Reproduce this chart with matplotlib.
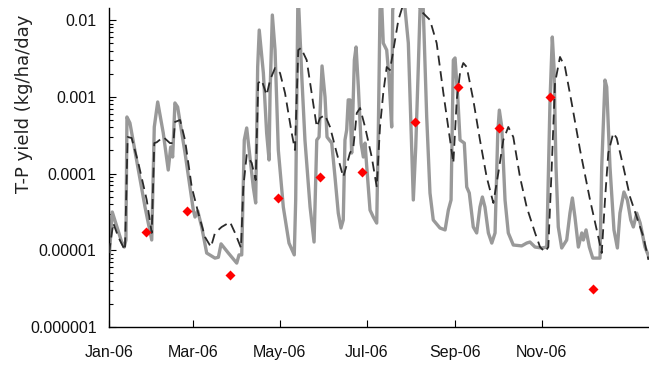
import numpy as np
import pandas as pd
import matplotlib
matplotlib.use("Agg")
import matplotlib.pyplot as plt
import matplotlib.ticker as mticker

start = pd.Timestamp("2006-01-01")

# simulated daily T-P yield (grey solid), day offset from 1 Jan 2006
sim_day = [0, 2.3, 8.9, 10.7, 11.9, 12.6, 14.7, 20.6, 25.3, 30.0, 31.8, 34.2, 38.1, 41.6, 43.3, 44.7,
           46.3, 48.2, 53.4, 59.2, 60.4, 62.3, 65.1, 68.6, 74.4, 76.8, 78.7, 83.8, 89.7, 91.3, 93.2,
           95.0, 96.7, 99.0, 101.3, 103.0, 104.4, 105.5, 108.4, 110.7, 112.4, 113.1, 114.7, 116.6,
           118.9, 122.4, 126.4, 130.1, 131.1, 132.7, 135.5, 137.6, 141.2, 144.0, 145.9, 147.5, 149.6,
           151.7, 153.1, 156.4, 158.7, 161.0, 162.9, 164.5, 165.7, 166.9, 168.0, 169.2, 170.4, 172.3,
           173.5, 175.1, 177.0, 178.6, 179.8, 181.0, 183.3, 185.6, 188.0, 189.1, 190.3, 191.3, 192.6,
           195.0, 196.6, 198.5, 199.2, 205.0, 210.2, 212.1, 213.7, 215.4, 217.2, 218.4, 220.0, 220.7,
           223.1, 225.4, 227.7, 232.4, 236.0, 238.3, 240.2, 241.8, 243.0, 244.9, 246.5, 249.5, 251.2,
           253.0, 255.8, 258.2, 260.5, 262.2, 264.0, 266.4, 268.8, 271.1, 273.0, 274.1, 275.8, 278.1,
           280.4, 283.9, 289.8, 293.3, 295.6, 299.2, 303.9, 307.4, 309.7, 311.3, 312.5, 313.9, 315.5,
           317.9, 321.4, 323.7, 325.4, 327.2, 329.6, 332.0, 333.1, 335.0, 337.3, 339.7, 344.8, 346.0,
           348.3, 349.5, 351.8, 354.6, 357.0, 358.8, 361.6, 364.0, 366.4, 368.2, 370.6, 373.0, 376.4,
           379.2]
sim_val = [7.5e-6, 3.15e-5, 1.28e-5, 1.10e-5, 1.36e-5, 5.45e-4, 4.55e-4, 1.11e-4, 3.66e-5, 1.36e-5,
           4.04e-4, 8.55e-4, 3.37e-4, 1.11e-4, 2.21e-4, 1.64e-4, 8.3e-4, 7.35e-4, 1.85e-4, 3.34e-5,
           2.71e-5, 3.25e-5, 2.01e-5, 9.2e-6, 7.9e-6, 8.1e-6, 1.21e-5, 9.2e-6, 6.8e-6, 8.7e-6, 8.7e-6,
           2.73e-4, 3.92e-4, 1.64e-4, 6.67e-5, 4.13e-5, 2.44e-3, 7.4e-3, 2.04e-3, 3.37e-4, 1.50e-4,
           1.12e-3, 1.16e-2, 4.06e-3, 2.02e-4, 3.66e-5, 1.24e-5, 8.7e-6, 4.52e-5, 2.5e-2, 1.65e-3,
           2.73e-4, 3.66e-5, 1.28e-5, 2.73e-4, 2.99e-4, 2.52e-3, 9.9e-4, 2.99e-4, 2.49e-4, 9.0e-5,
           3.05e-5, 1.95e-5, 2.48e-5, 2.73e-4, 3.69e-4, 9.1e-4, 9.1e-4, 1.85e-4, 3.01e-3, 4.45e-3,
           1.34e-3, 2.49e-4, 1.64e-4, 2.49e-4, 1.22e-4, 3.34e-5, 2.71e-5, 2.26e-5, 3.37e-4, 1.35e-2,
           2.0e-2, 5.0e-3, 4.06e-3, 1.81e-3, 4.04e-4, 1.35e-2, 5.0e-2, 5.0e-3, 4.04e-4, 4.52e-5,
           2.21e-4, 2.44e-3, 1.35e-2, 2.0e-2, 1.35e-2, 5.45e-4, 5.57e-5, 2.48e-5, 1.95e-5, 1.84e-5,
           3.34e-5, 4.52e-5, 3.01e-3, 3.2e-3, 9.9e-4, 2.73e-4, 2.49e-4, 6.67e-5, 5.57e-5, 2.01e-5,
           1.68e-5, 3.66e-5, 4.94e-5, 3.66e-5, 1.68e-5, 1.24e-5, 1.68e-5, 3.37e-4, 6.7e-4, 4.04e-4,
           4.52e-5, 1.68e-5, 1.17e-5, 1.14e-5, 1.24e-5, 1.28e-5, 1.10e-5, 1.07e-5, 1.10e-5, 9.1e-4,
           6.0e-3, 2.44e-3, 1.22e-4, 2.01e-5, 1.07e-5, 1.36e-5, 3.05e-5, 4.8e-5, 2.71e-5, 1.10e-5,
           1.68e-5, 1.36e-5, 1.84e-5, 1.10e-5, 7.9e-6, 7.9e-6, 1.22e-4, 1.65e-3, 1.34e-3, 1.22e-4,
           1.84e-5, 1.07e-5, 3.05e-5, 5.74e-5, 4.52e-5, 2.48e-5, 2.01e-5, 3.05e-5, 2.26e-5, 1.10e-5,
           8.1e-6]

# second simulation (black dashed)
sim2_day = [0, 3.0, 6.5, 11.2, 13.1, 15.9, 20.6, 26.5, 30.0, 31.8, 33.5, 38.1, 42.8, 45.2, 46.3, 49.9,
            53.4, 58.1, 62.7, 67.4, 71.6, 74.4, 79.1, 85.0, 88.5, 92.7, 94.3, 96.7, 100.2, 103.0, 104.8,
            107.2, 110.7, 113.1, 116.6, 120.1, 123.6, 128.3, 130.6, 132.9, 134.8, 138.8, 142.3, 145.9,
            148.2, 151.7, 155.2, 159.9, 164.5, 166.9, 169.2, 171.6, 174.0, 176.3, 179.8, 184.5, 188.0,
            190.3, 192.6, 195.0, 197.3, 199.7, 203.2, 206.0, 212.0, 218.4, 225.4, 230.1, 234.8, 239.5,
            241.8, 244.2, 246.5, 248.8, 251.2, 255.8, 260.5, 265.2, 269.9, 273.4, 276.9, 280.4, 283.9,
            288.6, 293.3, 299.2, 302.7, 306.2, 308.5, 310.9, 313.2, 316.7, 320.2, 324.9, 330.8, 337.8,
            343.6, 346.0, 348.3, 350.6, 354.1, 356.5, 361.2, 365.9, 370.6, 375.3, 378.8]
sim2_val = [9.2e-6, 2.26e-5, 1.49e-5, 1.0e-5, 2.99e-4, 2.9e-4, 1.37e-4, 4.52e-5, 1.68e-5, 2.49e-4,
            2.55e-4, 2.99e-4, 2.49e-4, 2.49e-4, 4.69e-4, 4.98e-4, 2.73e-4, 6.67e-5, 3.05e-5, 1.49e-5,
            1.10e-5, 1.68e-5, 2.01e-5, 2.33e-5, 1.68e-5, 1.07e-5, 6.67e-5, 1.74e-4, 1.37e-4, 8.2e-5,
            1.51e-3, 1.65e-3, 1.05e-3, 1.65e-3, 2.37e-3, 2.04e-3, 1.12e-3, 3.37e-4, 2.02e-4, 4.06e-3,
            4.32e-3, 3.01e-3, 1.12e-3, 4.04e-4, 5.28e-4, 5.78e-4, 4.04e-4, 1.85e-4, 9.0e-5, 1.29e-4,
            1.85e-4, 2.21e-4, 6.14e-4, 7.13e-4, 4.04e-4, 1.64e-4, 6.67e-5, 4.04e-4, 1.12e-3, 2.44e-3,
            2.23e-3, 4.06e-3, 1.0e-2, 1.47e-2, 2.5e-2, 1.35e-2, 1.0e-2, 5.0e-3, 1.12e-3, 2.73e-4,
            1.37e-4, 9.1e-4, 2.04e-3, 2.75e-3, 2.44e-3, 9.1e-4, 2.73e-4, 9.0e-5, 4.13e-5, 1.02e-4,
            2.73e-4, 4.04e-4, 2.99e-4, 9.0e-5, 3.66e-5, 1.68e-5, 1.10e-5, 9.5e-6, 1.10e-5, 1.22e-4,
            1.51e-3, 3.3e-3, 2.44e-3, 8.3e-4, 2.02e-4, 4.52e-5, 1.49e-5, 9.2e-6, 4.52e-5, 1.85e-4,
            3.37e-4, 2.9e-4, 1.22e-4, 4.94e-5, 2.71e-5, 1.49e-5, 7.5e-6]

# observed samples (red diamonds)
obs_date = ["2006-01-27", "2006-02-25", "2006-03-27", "2006-04-30", "2006-05-29", "2006-06-28",
            "2006-08-04", "2006-09-03", "2006-10-02", "2006-11-07", "2006-12-07"]
obs_val = [1.71e-5, 3.27e-5, 4.76e-6, 4.75e-5, 9.0e-5, 1.05e-4, 4.65e-4, 1.34e-3, 3.92e-4, 1.0e-3, 3.13e-6]

tick_dates = ["2006-01-01", "2006-03-01", "2006-05-01", "2006-07-01", "2006-09-01", "2006-11-01"]
tick_labels = ["Jan-06", "Mar-06", "May-06", "Jul-06", "Sep-06", "Nov-06"]
ytick_vals = [1e-6, 1e-5, 1e-4, 1e-3, 1e-2]
ytick_labels = ["0.000001", "0.00001", "0.0001", "0.001", "0.01"]

t1 = start + pd.to_timedelta(sim_day, unit="D")
t2 = start + pd.to_timedelta(sim2_day, unit="D")
t3 = pd.to_datetime(obs_date)

fig = plt.figure(figsize=(6.49, 3.69), dpi=100)
ax = fig.add_axes([109 / 649, 1 - 327 / 369, 1 - 109 / 649, (327 - 8) / 369])

ax.plot(t1, sim_val, color="#999999", lw=2.4, zorder=2, solid_joinstyle="round")
ax.plot(t2, sim2_val, color="#2a2a2a", lw=1.3, dashes=(5.5, 3.2), zorder=3)
ax.plot(t3, obs_val, ls="none", marker="D", ms=4.8, color="#ff0000", mec="none", zorder=4)

ax.set_yscale("log")
ax.set_ylim(1e-6, 10 ** (-2 + 12 / 76.75))
ax.set_xlim(start, start + pd.Timedelta(days=379.2))

ax.set_yticks(ytick_vals)
ax.set_yticklabels(ytick_labels)
ax.yaxis.set_minor_locator(mticker.LogLocator(base=10, subs=np.arange(2, 10)))
ax.yaxis.set_minor_formatter(mticker.NullFormatter())
ax.set_xticks(pd.to_datetime(tick_dates))
ax.set_xticklabels(tick_labels)
ax.xaxis.set_minor_locator(mticker.NullLocator())

for s in ["top", "right"]:
    ax.spines[s].set_visible(False)
for s in ["left", "bottom"]:
    ax.spines[s].set_linewidth(1.0)
    ax.spines[s].set_color("black")

ax.tick_params(axis="both", which="major", direction="in", length=5, width=0.8)
ax.tick_params(axis="y", which="minor", direction="in", length=3, width=0.8)
ax.tick_params(axis="y", which="major", pad=9)
ax.tick_params(axis="x", which="major", pad=13)
for lab in ax.get_xticklabels() + ax.get_yticklabels():
    lab.set_family("Liberation Sans")
    lab.set_fontsize(11.5)
    lab.set_color("#111111")

fig.text(24 / 649, 1 - 193 / 369, "T-P yield (kg/ha/day", rotation=90, ha="center", va="bottom",
         fontsize=13, family="DejaVu Sans", color="#222222")

fig.savefig("out.png", dpi=100)
